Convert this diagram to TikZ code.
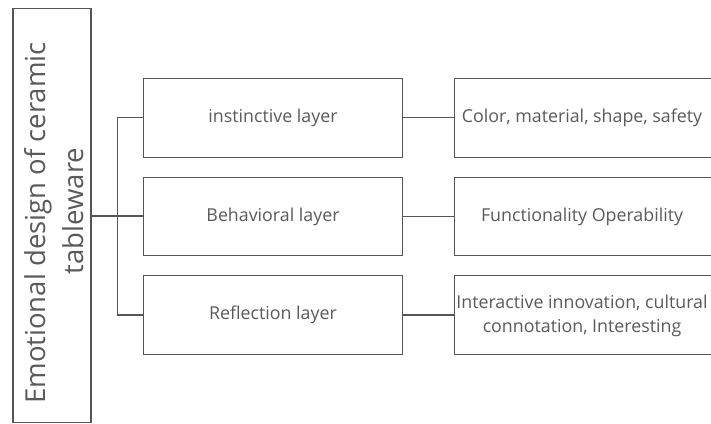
\documentclass[tikz,border=0pt]{standalone}
\usepackage{fontspec}
\setmainfont{Open Sans}
\definecolor{txt}{HTML}{5A5A5A}
\definecolor{ln}{HTML}{555555}
\begin{document}
\begin{tikzpicture}[x=1pt,y=-1pt,
  box/.style={draw=ln,line width=1.2pt,rectangle,inner sep=0pt},
  lbl/.style={text=txt,font=\fontsize{17.8}{24}\selectfont,align=center,inner sep=0pt},
  big/.style={text=txt,font=\fontsize{27.5}{33}\selectfont,rotate=90,inner sep=0pt},
  con/.style={draw=ln,line width=1.2pt}]
\useasboundingbox (0,0) rectangle (711,423);
\clip (0,0) rectangle (711,423);
\fill[white] (0,0) rectangle (711,423);
% left box
\node[box,minimum width=78pt,minimum height=414pt] (L) at (52,215.5) {};
\node[big] (t1) at (38,223) {Emotional design of ceramic};
\node[big] (t2) at (73,211) {tableware};
% middle boxes
\node[box,minimum width=259.5pt,minimum height=79pt] (m1) at (273,117.8) {};
\node[box,minimum width=259.5pt,minimum height=78.5pt] (m2) at (273,216.5) {};
\node[box,minimum width=259.5pt,minimum height=78.5pt] (m3) at (273,315) {};
\node[lbl] (m1t) at (m1) {instinctive layer};
\node[lbl] (m2t) at (m2) {Behavioral layer};
\node[lbl] (m3t) at (m3) {Reflection layer};
% right boxes (cut off by page edge)
\node[box,minimum width=280pt,minimum height=79pt,anchor=west] (r1) at (454,117.8) {};
\node[box,minimum width=280pt,minimum height=78.5pt,anchor=west] (r2) at (454,216.5) {};
\node[box,minimum width=280pt,minimum height=78.5pt,anchor=west] (r3) at (454,315) {};
\node[lbl] (r1t) at (582,117.8) {Color, material, shape, safety};
\node[lbl] (r2t) at (582,216.5) {Functionality Operability};
\node[lbl] (r3t) at (582,316) {Interactive innovation, cultural\\connotation, Interesting};
% connectors
\coordinate (bus) at (117.3,216);
\draw[con] (L.east |- bus) -- (m2.west |- bus);
\draw[con] (m1.west) -| (bus) |- (m3.west);
\draw[con] (m1.east) -- (r1.west);
\draw[con] (m2.east) -- (r2.west);
\draw[con] (m3.east) -- (r3.west);
\end{tikzpicture}
\end{document}
